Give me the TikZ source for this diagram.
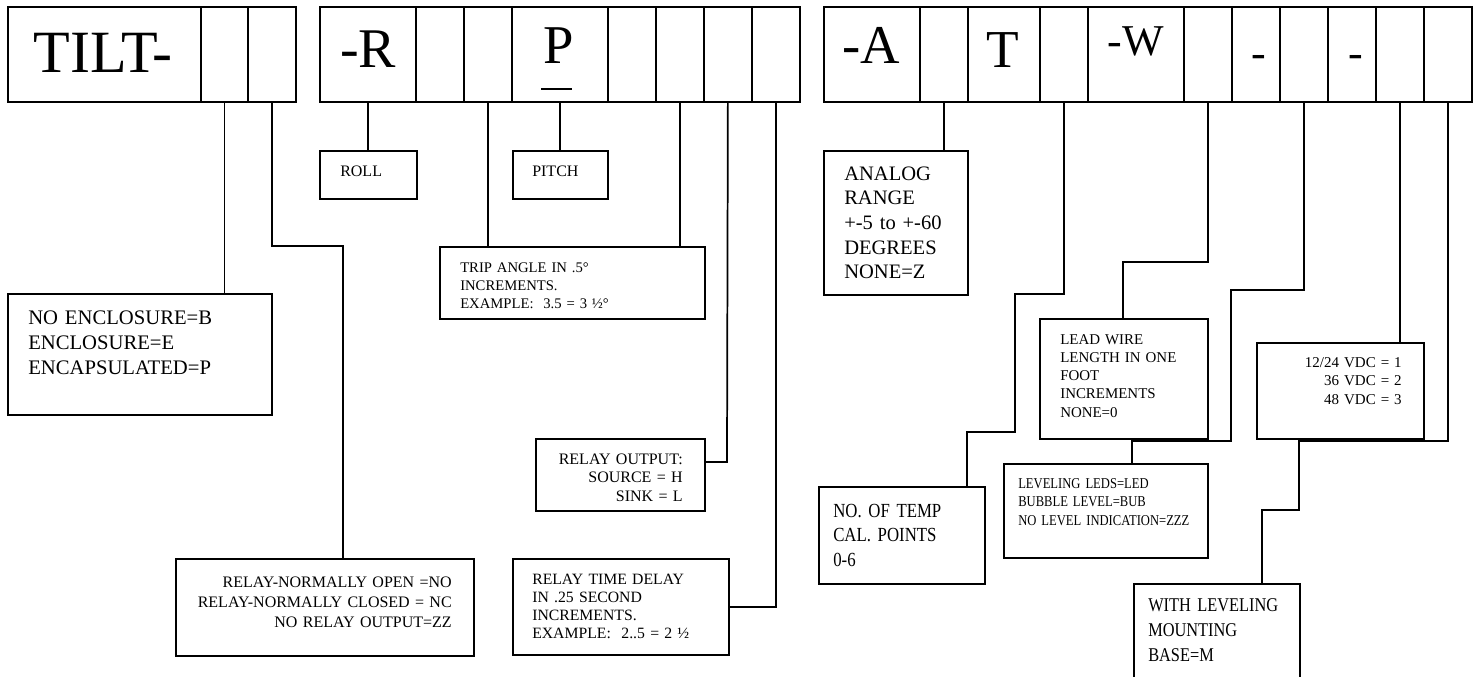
\documentclass[tikz,border=0pt]{standalone}
\usepackage{fontspec}
\setmainfont{Liberation Serif}
\newfontfamily\narrowserif[FakeStretch=0.84]{Liberation Serif}
\usepackage{tikz}
\usetikzlibrary{calc}
\newcommand{\fsz}[2]{\fontsize{#1}{#2}\selectfont}
% a label box: name, x1, y1, x2, y2 (pixels, y down)
\newcommand{\lbox}[5]{%
  \node[labelbox,minimum width={(#4-#2)*0.75pt},minimum height={(#5-#3)*0.75pt}]
    (#1) at (#2,#3) {};}
\tikzset{
  cellbox/.style={draw,line width=1.3pt,inner sep=0pt,anchor=north west,
    minimum height=71.25pt},
  labelbox/.style={draw,line width=1.3pt,inner sep=0pt,anchor=north west},
  wire/.style={line width=1.3pt},
  txt/.style={inner sep=0pt,text width=#1,align=left,anchor=base west},
  rtxt/.style={inner sep=0pt,text width=#1,align=right,anchor=base east},
  big/.style={inner sep=0pt,anchor=base,font=\fsz{#1}{#1}}
}
\begin{document}
\begin{tikzpicture}[x=0.75pt,y=-0.75pt]
  \useasboundingbox (0,0) rectangle (1478,676);
  \clip (0,0) rectangle (1478,676);
  % code cells
  \foreach \nm/\xa/\xb in {c0/7/200,c1/200/247,c2/247/295,
      c3/319/415,c4/415/463,c5/463/511,c6/511/607,c7/607/655,c8/655/703,
      c9/703/751,c10/751/799,c11/823/919,c12/919/967,c13/967/1039,
      c14/1039/1087,c15/1087/1183,c16/1183/1231,c17/1231/1279,
      c18/1279/1327,c19/1327/1375,c20/1375/1423,c21/1423/1471}
    {\node[cellbox,minimum width={(\xb-\xa)*0.75pt}] (\nm) at (\xa,6) {};}
  \node[big=45pt] (tilt) at (103,72) {TILT-};
  \node[big=42pt] (rl) at (368,67) {-R};
  \node[big=41pt] (pl) at (559,63) {P};
  \draw[line width=2.2pt] (541,89) -- (572,89);
  \node[big=41pt] (al) at (871,63) {-A};
  \node[big=40pt] (tl) at (1003,67) {T};
  \node[big=33pt] (wl) at (1136,55) {-W};
  \node[big=33pt] (d1) at (1259,67) {-};
  \node[big=33pt] (d2) at (1356,67) {-};
  % label boxes
  \lbox{enc}{7}{293}{271}{414}
  \lbox{roll}{319}{150}{416}{198}
  \lbox{pitch}{512}{150}{607}{198}
  \lbox{trip}{439}{246}{704}{318}
  \lbox{outbox}{535}{438}{704}{510}
  \lbox{delay}{512}{558}{728}{654}
  \lbox{relaybox}{175}{558}{473}{655}
  \lbox{analog}{823}{150}{967}{294}
  \lbox{temp}{818}{486}{984}{583}
  \lbox{wirelen}{1039}{318}{1207}{438}
  \lbox{leveling}{1003}{463}{1207}{557}
  \lbox{vdc}{1256}{342}{1423}{438}
  \lbox{base}{1133}{583}{1299}{700}
  % texts
  \node[txt=190pt,font=\fsz{15.5}{19.1}] (enctxt) at (28,324)
    {NO ENCLOSURE=B\\ENCLOSURE=E\\ENCAPSULATED=P};
  \node[txt=60pt,font=\fsz{12}{14}] (rolltxt) at (340,176) {ROLL};
  \node[txt=60pt,font=\fsz{12}{14}] (pitchtxt) at (532,176) {PITCH};
  \node[txt=190pt,font=\fsz{11}{13.5}] (triptxt) at (460,272)
    {TRIP ANGLE IN .5°\\INCREMENTS.\\EXAMPLE:\ \ 3.5 = 3 ½°};
  \node[rtxt=120pt,font=\fsz{12}{13.9}] (outtxt) at (683,464)
    {RELAY OUTPUT:\\SOURCE = H\\SINK = L};
  \node[txt=150pt,font=\fsz{11.8}{13.7}] (delaytxt) at (532,584)
    {RELAY TIME DELAY\\IN .25 SECOND\\INCREMENTS.\\EXAMPLE:\ \ 2..5 = 2 ½};
  \node[rtxt=210pt,font=\fsz{12}{15}] (relaytxt) at (452,587)
    {RELAY-NORMALLY OPEN =NO\\RELAY-NORMALLY CLOSED = NC\\NO RELAY OUTPUT=ZZ};
  \node[txt=100pt,font=\fsz{15.4}{18.5}] (analogtxt) at (844,180)
    {ANALOG\\RANGE\\+-5 to +-60\\DEGREES\\NONE=Z};
  \node[txt=115pt,font=\narrowserif\fsz{15}{18.4}] (temptxt) at (833,517)
    {NO. OF TEMP\\CAL. POINTS\\0-6};
  \node[txt=115pt,font=\fsz{11.2}{13.7}] (wiretxt) at (1060,344)
    {LEAD WIRE\\LENGTH IN ONE\\FOOT\\INCREMENTS\\NONE=0};
  \node[txt=145pt,font=\narrowserif\fsz{11.25}{13.9}] (leveltxt) at (1018,488)
    {LEVELING LEDS=LED\\BUBBLE LEVEL=BUB\\NO LEVEL INDICATION=ZZZ};
  \node[rtxt=110pt,font=\fsz{11.25}{13.9}] (vdctxt) at (1402,367)
    {12/24 VDC = 1\\36 VDC = 2\\48 VDC = 3};
  \node[txt=115pt,font=\narrowserif\fsz{14.6}{18.75}] (basetxt) at (1148,611)
    {WITH LEVELING\\MOUNTING\\BASE=M};
  % bends
  \coordinate (k2) at (343,246);
  \coordinate (k9) at (727,462);
  \coordinate (k14a) at (1015,294);
  \coordinate (k14b) at (967,432);
  \coordinate (k16) at (1123,262);
  \coordinate (k18a) at (1231,290);
  \coordinate (k18b) at (1132,441);
  \coordinate (k21a) at (1299,441);
  \coordinate (k21b) at (1262,510);
  % leads
  \draw[wire] (c1.south) -- (c1.south |- enc.north);
  \draw[wire] (c2.south) |- (k2) -- (k2 |- relaybox.north);
  \draw[wire] (c3.south) -- (c3.south |- roll.north);
  \draw[wire] (c5.south) -- (c5.south |- trip.north);
  \draw[wire] (c6.south) -- (c6.south |- pitch.north);
  \draw[wire] (c8.south) -- (c8.south |- trip.north);
  \draw[wire] (c9.south) -- (k9) -- (k9 -| outbox.east);
  \draw[wire] (c10.south) |- (delay.east);
  \draw[wire] (c12.south) -- (c12.south |- analog.north);
  \draw[wire] (c14.south) |- (k14a) |- (k14b) -- (k14b |- temp.north);
  \draw[wire] (c16.south) |- (k16) -- (k16 |- wirelen.north);
  \draw[wire] (c18.south) |- (k18a) |- (k18b) -- (k18b |- leveling.north);
  \draw[wire] (c20.south) -- (c20.south |- vdc.north);
  \draw[wire] (c21.south) |- (k21a) |- (k21b) -- (k21b |- base.north);
\end{tikzpicture}
\end{document}
